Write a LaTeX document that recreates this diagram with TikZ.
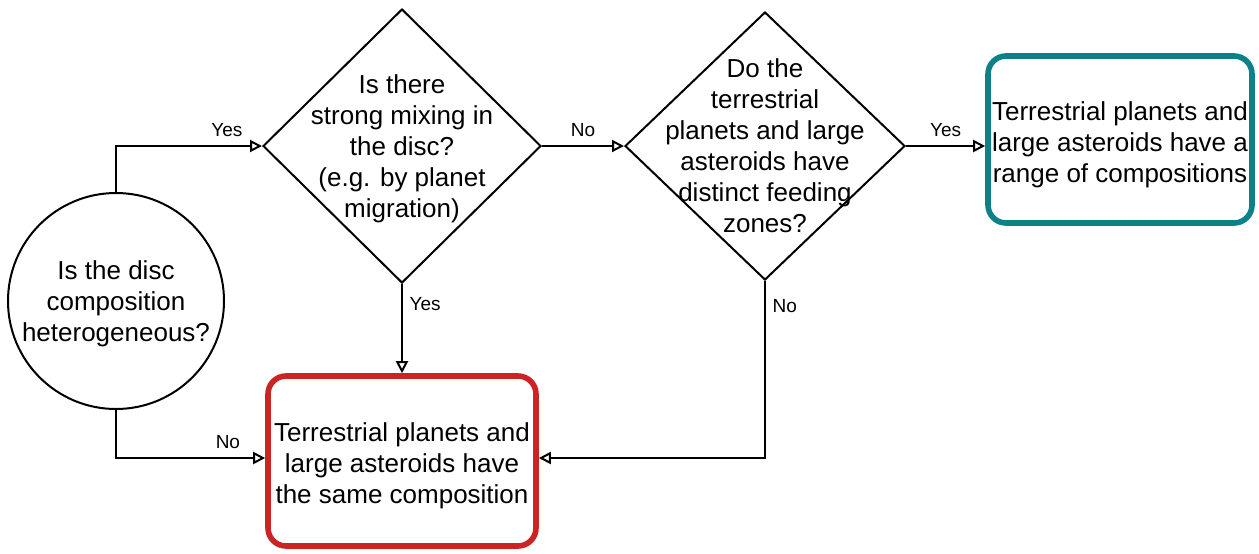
\documentclass[tikz,border=0pt]{standalone}
\usepackage{fontspec}
\setmainfont{Liberation Sans}
\usetikzlibrary{shapes.geometric,arrows.meta}
\definecolor{samered}{RGB}{203,36,36}
\definecolor{rangeteal}{RGB}{14,128,136}
\begin{document}
\begin{tikzpicture}[
		x=0.5pt,y=-0.5pt,
		qtext/.style={
			align=center,
			font=\fontsize{13}{15.5}\selectfont
		},
		question/.style={
			draw,
			circle,
			line width=1pt,
			minimum size=108pt,
			inner sep=0pt
		},
		decision/.style={
			draw,
			diamond,
			line width=1pt,
			inner sep=0pt
		},
		outcome/.style={
			rounded corners=9pt,
			line width=2.8pt,
			inner sep=0pt
		},
		answer/.style={
			font=\fontsize{9.5}{11}\selectfont
		},
		flow/.style={
			->,
			line width=1pt
		},
		>={Triangle[open,length=6pt,width=6pt]}
		]
		\useasboundingbox (0,0) rectangle (1259,553);
		\node[question,
			label={[qtext, yshift=-1.5pt]center:{Is the disc\\composition\\heterogeneous?}}] (disc) at (116,301) {};
		\node[decision, minimum width=139pt, minimum height=137pt,
			label={[qtext, yshift=-1.5pt]center:{Is there\\strong mixing in\\the disc?\\(e.g. by planet\\migration)}}] (mix) at (402,146) {};
		\node[decision, minimum width=140pt, minimum height=134pt,
			label={[qtext]center:{Do the\\terrestrial\\planets and large\\asteroids have\\distinct feeding\\zones?}}] (feed) at (765,146) {};
		\node[outcome, draw=rangeteal, minimum width=132pt, minimum height=83.5pt,
			label={[qtext, yshift=-2.5pt]center:{Terrestrial planets and\\large asteroids have a\\range of compositions}}] (range) at (1120,139.5) {};
		\node[outcome, draw=samered, minimum width=134pt, minimum height=85pt,
			label={[qtext, yshift=-2.5pt]center:{Terrestrial planets and\\large asteroids have\\the same composition}}] (same) at (402,461) {};
		\draw[flow] (disc.north) |- node[answer, above=1pt, pos=0.88] {Yes} (mix.west);
		\draw[flow] (disc.south) |- node[answer, above=1pt, pos=0.875] {No} (same.west |- 0,458);
		\draw[flow] (mix.south) -- node[answer, right, pos=0.22] {Yes} (same.north);
		\draw[flow] (mix.east) -- node[answer, above=1pt] {No} (feed.west);
		\draw[flow] (feed.east) -- node[answer, above=1pt] {Yes} (feed.east -| range.west);
		\draw[flow] (feed.south) |- node[answer, right, pos=0.07] {No} (same.east |- 0,458);
\end{tikzpicture}
\end{document}
